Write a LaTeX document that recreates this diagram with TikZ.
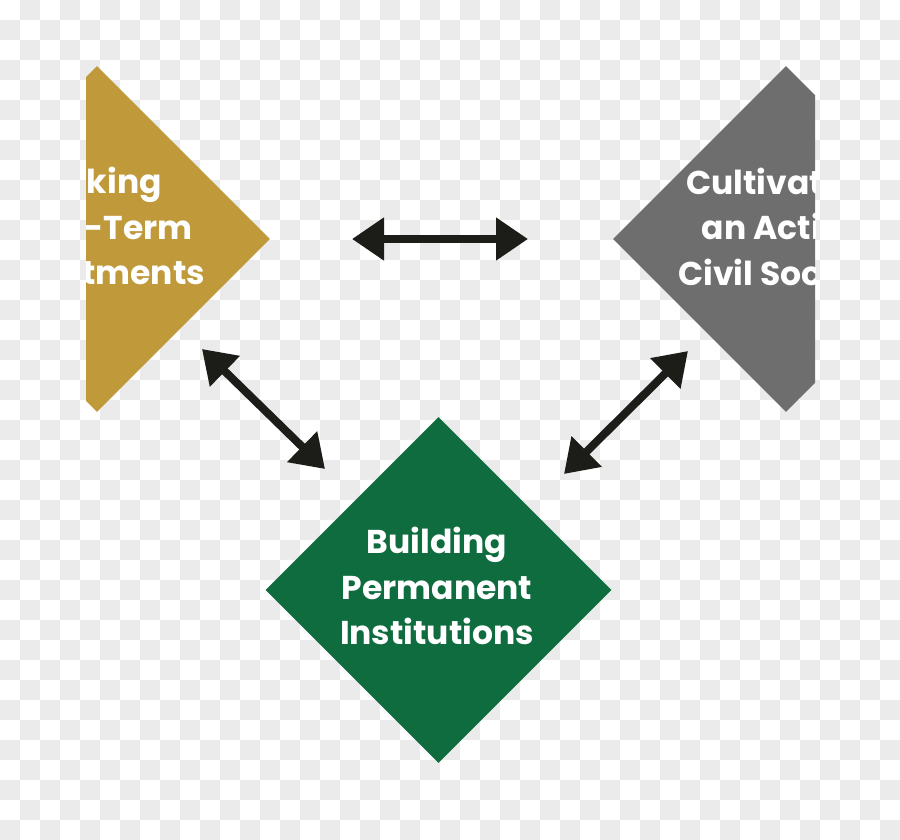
\documentclass[tikz,border=0pt]{standalone}
\usepackage{fontspec}
\usetikzlibrary{shapes.geometric,arrows.meta}
\newfontfamily\labfont{Poppins}
\definecolor{checkgrey}{HTML}{EBEBEB}
\definecolor{goldc}{HTML}{C09A3A}
\definecolor{greyc}{HTML}{6E6E6E}
\definecolor{greenc}{HTML}{0E6C3E}
\definecolor{arrowc}{HTML}{1C1C18}
\tikzset{
  dia/.style={shape=diamond, minimum width=346pt, minimum height=346pt, inner sep=0pt, draw=none},
  lab/.style={text=white, align=center, inner sep=0pt, font=\labfont\bfseries\fontsize{33}{45.5}\selectfont},
  arr/.style={draw=arrowc, line width=8pt, {Triangle[length=32pt,width=41pt]}-{Triangle[length=32pt,width=41pt]}},
}
\begin{document}
\begin{tikzpicture}[x=1pt,y=-1pt]
\useasboundingbox (0,0) rectangle (900,840);
\fill[white] (0,0) rectangle (900,840);
\foreach \i in {0,...,44}{
  \foreach \j in {0,...,41}{
    \pgfmathtruncatemacro\s{mod(\i+\j,2)}
    \ifnum\s=1 \fill[checkgrey] (\i*20,\j*20) rectangle ++(20,20); \fi
  }
}
\begin{scope}
\clip (86,0) rectangle (815,840);
\node[dia, fill=goldc] (gold) at (97,239) {};
\node[dia, fill=greyc] (grey) at (786,239) {};
\node[dia, fill=greenc] (green) at (438.5,590) {};
\node[lab] (goldtxt) at (98,226) {Making\\Long-Term\\Investments};
\node[lab] (greytxt) at (782,231) {Cultivating\\an Active\\Civil Society};
\node[lab] (greentxt) at (437,586) {Building\\Permanent\\Institutions};
\end{scope}
\coordinate (h1) at (352,239);
\coordinate (h2) at (528,239);
\coordinate (l1) at (202,349);
\coordinate (l2) at (325,469);
\coordinate (r1) at (688,351);
\coordinate (r2) at (564,474);
\draw[arr] (h1) -- (h2);
\draw[arr] (l1) -- (l2);
\draw[arr] (r1) -- (r2);
\end{tikzpicture}
\end{document}
